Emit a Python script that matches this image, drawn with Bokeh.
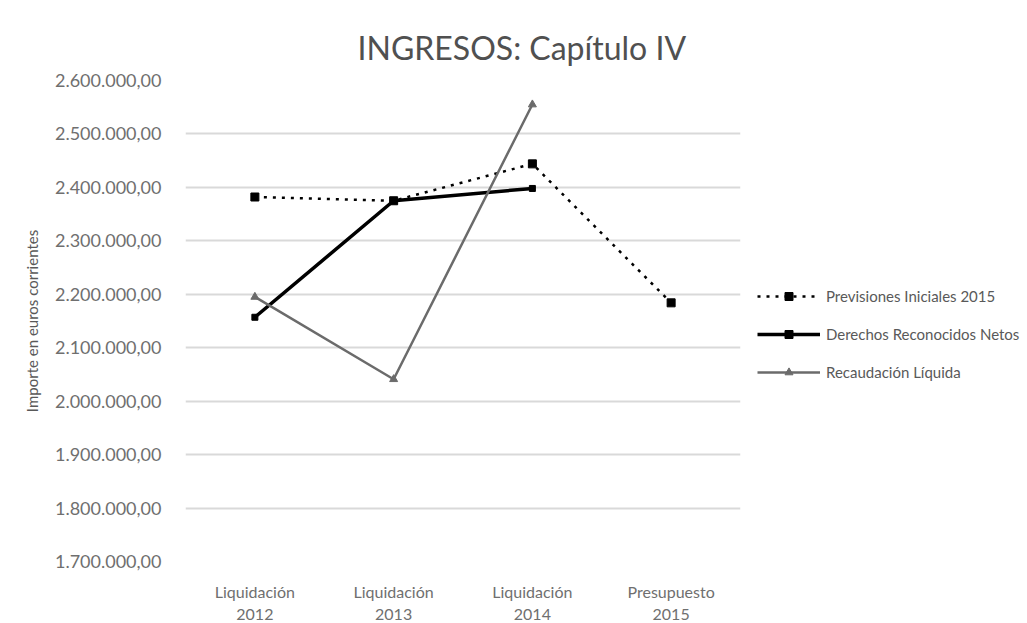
from bokeh.plotting import figure
from bokeh.models import (ColumnDataSource, FixedTicker, Legend, LegendItem, Title, BoxAnnotation)
from bokeh.embed import file_html
from bokeh.resources import INLINE

# Categories (budget years)
categories = ["Liquidación\n2012", "Liquidación\n2013", "Liquidación\n2014", "Presupuesto\n2015"]

# Series values (euros)
previsiones = [2382000, 2375000, 2444000, 2184000]
derechos = [2157000, 2375000, 2398000]
recaudacion = [2195000, 2041000, 2555000]

series_names = ["Previsiones Iniciales 2015", "Derechos Reconocidos Netos", "Recaudación Líquida"]

# Y axis ticks and their labels
y_ticks = [1700000, 1800000, 1900000, 2000000, 2100000, 2200000, 2300000, 2400000, 2500000, 2600000]
y_tick_labels = ["1.700.000,00", "1.800.000,00", "1.900.000,00", "2.000.000,00", "2.100.000,00",
                 "2.200.000,00", "2.300.000,00", "2.400.000,00", "2.500.000,00", "2.600.000,00"]

title_text = "INGRESOS: Capítulo IV"
y_title = "Importe en euros corrientes"

FONT = "Lato"

p = figure(x_range=categories, y_range=(y_ticks[0], y_ticks[-1]),
           width=1027, height=623, output_backend="svg", toolbar_location=None,
           min_border_left=185, min_border_right=287, min_border_top=80, min_border_bottom=62,
           frame_width=555, frame_height=481)
p.outline_line_color = None
p.background_fill_color = "white"
p.border_fill_color = "white"

t = Title(text=title_text, align="left", offset=172, text_font=FONT, text_font_size="32px",
          text_font_style="normal", text_color="#505050", standoff=28)
p.add_layout(t, "above")

src1 = ColumnDataSource(dict(x=categories[:len(previsiones)], y=previsiones))
src2 = ColumnDataSource(dict(x=categories[:len(derechos)], y=derechos))
src3 = ColumnDataSource(dict(x=categories[:len(recaudacion)], y=recaudacion))

# Previsiones: dotted black line with square markers
l1 = p.line("x", "y", source=src1, line_color="black", line_width=2.5, line_dash="3 6")
m1 = p.scatter("x", "y", source=src1, marker="square", size=8, fill_color="black", line_color="black")

# Derechos reconocidos: thick solid black line
l2 = p.line("x", "y", source=src2, line_color="black", line_width=3.5)
m2 = p.scatter("x", "y", source=src2, marker="square", size=6, fill_color="black", line_color="black")

# Recaudación: grey solid line
l3 = p.line("x", "y", source=src3, line_color="#6b6b6b", line_width=2.5)
m3 = p.scatter("x", "y", source=src3, marker="triangle", size=8, fill_color="#6b6b6b", line_color="#6b6b6b")

legend = Legend(items=[LegendItem(label=series_names[0], renderers=[l1, m1]),
                       LegendItem(label=series_names[1], renderers=[l2, m2]),
                       LegendItem(label=series_names[2], renderers=[l3, m3])],
                location=(17, 179), orientation="vertical",
                padding=0, margin=0, spacing=18, glyph_width=63, glyph_height=20,
                label_height=20, label_standoff=6,
                label_text_font=FONT, label_text_font_size="15px", label_text_color="#595959",
                border_line_color=None, background_fill_alpha=0)
p.add_layout(legend, "right")

# Dark frame edges beside the axis title and under the legend
p.add_layout(BoxAnnotation(left=13, right=16, top=228, bottom=412,
                           left_units="canvas", right_units="canvas",
                           top_units="canvas", bottom_units="canvas",
                           fill_color="#1a1a1a", fill_alpha=1, line_color=None))
p.add_layout(BoxAnnotation(left=742, right=1027, top=387, bottom=390,
                           left_units="canvas", right_units="canvas",
                           top_units="canvas", bottom_units="canvas",
                           fill_color="#1a1a1a", fill_alpha=1, line_color=None))

p.yaxis.ticker = FixedTicker(ticks=y_ticks)
p.yaxis.major_label_overrides = {v: s for v, s in zip(y_ticks, y_tick_labels)}
p.yaxis.axis_line_color = None
p.yaxis.major_tick_line_color = None
p.yaxis.minor_tick_line_color = None
p.yaxis.major_label_standoff = 18
p.yaxis.major_label_text_font = FONT
p.yaxis.major_label_text_font_size = "18px"
p.yaxis.major_label_text_color = "#6f6f6f"
p.yaxis.axis_label = y_title
p.yaxis.axis_label_text_font = FONT
p.yaxis.axis_label_text_font_size = "15px"
p.yaxis.axis_label_text_font_style = "normal"
p.yaxis.axis_label_text_color = "#595959"
p.yaxis.axis_label_standoff = 11

p.xaxis.axis_line_color = None
p.xaxis.major_tick_line_color = None
p.xaxis.major_label_standoff = 14
p.xaxis.major_label_text_font = FONT
p.xaxis.major_label_text_font_size = "16px"
p.xaxis.major_label_text_color = "#6f6f6f"

p.xgrid.grid_line_color = None
p.ygrid.grid_line_color = "#d9d9d9"
p.ygrid.grid_line_width = 2

open("out.html", "w").write(file_html(p, INLINE))
